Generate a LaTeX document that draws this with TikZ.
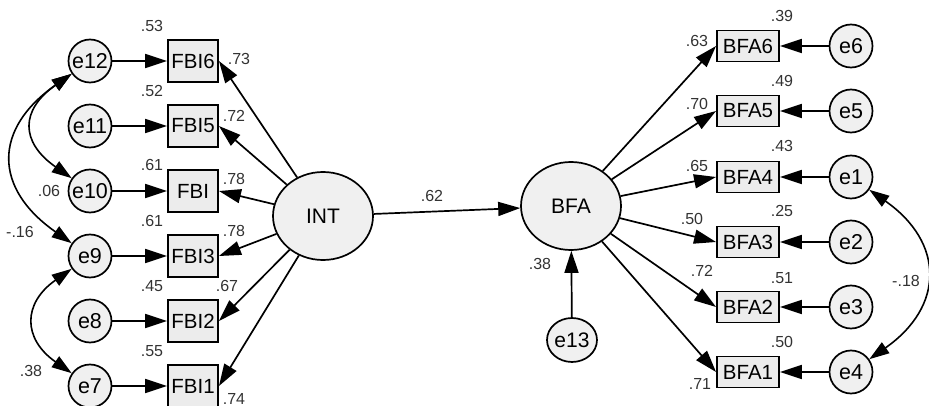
\documentclass[tikz,border=0pt]{standalone}
\usepackage{fontspec}
\setmainfont{Liberation Sans}
\usetikzlibrary{arrows.meta,shapes.geometric}

\begin{document}
\begin{tikzpicture}[
    x=1pt, y=1pt,
    obs/.style={
      draw,
      rectangle,
      line width=1.9pt,
      fill=gray!15,
      inner sep=0pt,
      font=\fontsize{20.5}{24}\selectfont
    },
    obsl/.style={obs, minimum width=50pt, minimum height=42pt},
    obsr/.style={obs, minimum width=62pt, minimum height=31pt},
    err/.style={
      draw,
      circle,
      line width=1.7pt,
      fill=gray!12,
      inner sep=0pt,
      minimum size=43pt,
      font=\fontsize{21.5}{24}\selectfont
    },
    lat/.style={
      draw,
      ellipse,
      line width=1.7pt,
      fill=gray!12,
      inner sep=0pt,
      minimum width=100pt,
      minimum height=88pt,
      font=\fontsize{21}{24}\selectfont
    },
    reg/.style={line width=1.7pt, -{Triangle[length=22pt,width=14pt]}},
    covar/.style={line width=1.6pt, {Triangle[length=20pt,width=13pt]}-{Triangle[length=20pt,width=13pt]}},
    coef/.style={font=\fontsize{16}{18}\selectfont, text=black!80, inner sep=0pt}
  ]

    \useasboundingbox (0,0) rectangle (929,-406);

    % Latent variables
    \node[lat] (INT) at (323,-216) {INT};
    \node[lat] (BFA) at (571,-206) {BFA};
    \node[lat, minimum width=50pt, minimum height=44pt] (e13) at (572,-340) {e13};

    % FBI indicators with their errors
    \foreach \i/\lab/\e/\y in {6/FBI6/12/61, 5/FBI5/11/126, 4/FBI/10/191, 3/FBI3/9/256, 2/FBI2/8/321, 1/FBI1/7/386} {
      \node[obsl] (fbi\i) at (193,-\y) {\lab};
      \node[err] (e\e) at (90,-\y) {e\e};
      \draw[reg] (e\e) -- (fbi\i);
      \draw[reg] (INT) -- (fbi\i.east);
    }

    % BFA indicators with their errors
    \foreach \i/\e/\y in {6/6/46, 5/5/111, 4/1/177, 3/2/242, 2/3/307, 1/4/372} {
      \node[obsr] (bfa\i) at (748,-\y) {BFA\i};
      \node[err] (e\e) at (851,-\y) {e\e};
      \draw[reg] (e\e) -- (bfa\i);
      \draw[reg] (BFA) -- (bfa\i.west);
    }

    % Structural path
    \draw[reg] (INT) -- (BFA);
    \draw[reg] (e13) -- (BFA);

    % Error covariances
    \draw[covar] (e12.215) .. controls +(215:63) and +(145:63) .. (e10.145);
    \draw[covar] (e12.215) .. controls +(215:96) and +(145:96) .. (e9.145);
    \draw[covar] (e9.215) .. controls +(215:60) and +(145:60) .. (e7.145);
    \draw[covar] (e1.-35) .. controls +(-35:92) and +(35:92) .. (e4.35);

    % Squared multiple correlations
    \node[coef] (r6) at (152,-26) {.53};
    \node[coef] (r5) at (152,-91) {.52};
    \node[coef] (r4) at (152,-165) {.61};
    \node[coef] (r3) at (152,-221) {.61};
    \node[coef] (r2) at (152,-286) {.45};
    \node[coef] (r1) at (152,-351) {.55};
    \node[coef] (s6) at (782,-16) {.39};
    \node[coef] (s5) at (782,-81) {.49};
    \node[coef] (s4) at (782,-146) {.43};
    \node[coef] (s3) at (782,-211) {.25};
    \node[coef] (s2) at (782,-278) {.51};
    \node[coef] (s1) at (782,-342) {.50};
    \node[coef] (sBFA) at (540,-264) {.38};

    % Loadings
    \node[coef] (l6) at (239,-59) {.73};
    \node[coef] (l5) at (234,-116) {.72};
    \node[coef] (l4) at (234,-179) {.78};
    \node[coef] (l3) at (234,-231) {.78};
    \node[coef] (l2) at (227,-286) {.67};
    \node[coef] (l1) at (234,-399) {.74};
    \node[coef] (m6) at (697,-41) {.63};
    \node[coef] (m5) at (697,-104) {.70};
    \node[coef] (m4) at (697,-166) {.65};
    \node[coef] (m3) at (692,-219) {.50};
    \node[coef] (m2) at (702,-271) {.72};
    \node[coef] (m1) at (700,-384) {.71};
    \node[coef] (b) at (432,-196) {.62};

    % Covariance values
    \node[coef] (c1) at (49,-191) {.06};
    \node[coef] (c2) at (20,-232) {-.16};
    \node[coef] (c3) at (31,-371) {.38};
    \node[coef] (c4) at (906,-281) {-.18};

  \end{tikzpicture}
\end{document}
